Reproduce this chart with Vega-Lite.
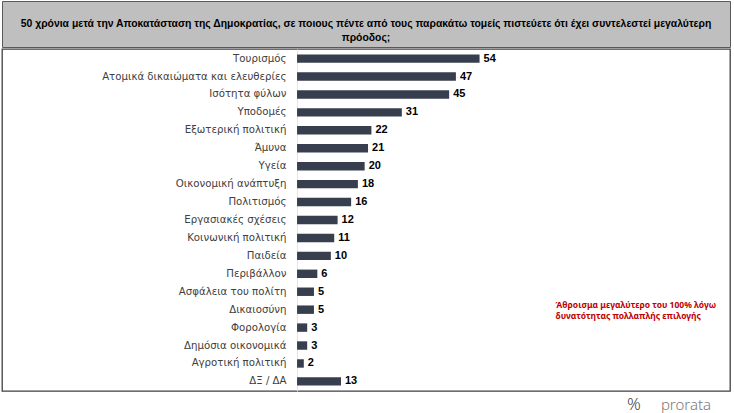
{
  "$schema": "https://vega.github.io/schema/vega-lite/v6.json",
  "background": "white",
  "padding": {"left": 1, "top": 0, "right": 0, "bottom": 0},
  "spacing": 0,
  "config": {"view": {"stroke": null}, "font": "Liberation Sans"},
  "vconcat": [
    {
      "width": 728,
      "height": 46,
      "view": {"fill": "#bfbfbf", "stroke": "#595959", "strokeWidth": 1},
      "data": {"values": [{"title": "50 χρόνια μετά την Αποκατάσταση της Δημοκρατίας, σε ποιους πέντε από τους παρακάτω τομείς πιστεύετε ότι έχει συντελεστεί μεγαλύτερη\nπρόοδος;"}]},
      "mark": {"type": "text", "font": "Liberation Sans", "fontWeight": "bold", "fontSize": 10.4, "lineBreak": "\n", "lineHeight": 13.5, "color": "#000000", "baseline": "middle", "align": "center"},
      "encoding": {"text": {"field": "title"}}
    },
    {
      "width": 728,
      "height": 342,
      "view": {"stroke": "#404040", "strokeWidth": 1.3},
      "data": {"values": [
        {"sector": "Τουρισμός", "pct": 54},
        {"sector": "Ατομικά δικαιώματα και ελευθερίες", "pct": 47},
        {"sector": "Ισότητα φύλων", "pct": 45},
        {"sector": "Υποδομές", "pct": 31},
        {"sector": "Εξωτερική πολιτική", "pct": 22},
        {"sector": "Άμυνα", "pct": 21},
        {"sector": "Υγεία", "pct": 20},
        {"sector": "Οικονομική ανάπτυξη", "pct": 18},
        {"sector": "Πολιτισμός", "pct": 16},
        {"sector": "Εργασιακές σχέσεις", "pct": 12},
        {"sector": "Κοινωνική πολιτική", "pct": 11},
        {"sector": "Παιδεία", "pct": 10},
        {"sector": "Περιβάλλον", "pct": 6},
        {"sector": "Ασφάλεια του πολίτη", "pct": 5},
        {"sector": "Δικαιοσύνη", "pct": 5},
        {"sector": "Φορολογία", "pct": 3},
        {"sector": "Δημόσια οικονομικά", "pct": 3},
        {"sector": "Αγροτική πολιτική", "pct": 2},
        {"sector": "ΔΞ / ΔΑ", "pct": 13}
      ]},
      "layer": [
        {
          "mark": {"type": "bar", "color": "#373e4d"},
          "encoding": {
            "y": {
              "field": "sector", "type": "nominal", "sort": null,
              "scale": {"paddingInner": 0.53, "paddingOuter": 0.3},
              "axis": {"title": null, "offset": -295, "ticks": false, "domain": true, "domainColor": "#e6e6e6", "labelPadding": 11, "labelFont": "DejaVu Sans", "labelFontSize": 10.2, "labelColor": "#404040", "labelLimit": 300}
            },
            "x": {"field": "pct", "type": "quantitative", "scale": {"domain": [-87.3, 128.1], "nice": false, "zero": true}, "axis": null}
          }
        },
        {
          "mark": {"type": "text", "align": "left", "dx": 4, "baseline": "middle", "fontWeight": "bold", "fontSize": 11, "font": "Liberation Sans", "color": "#000000"},
          "encoding": {
            "y": {"field": "sector", "type": "nominal", "sort": null},
            "x": {"field": "pct", "type": "quantitative"},
            "text": {"field": "pct", "type": "quantitative"}
          }
        },
        {
          "transform": [{"filter": "datum.sector === 'Δικαιοσύνη'"}],
          "mark": {"type": "text", "align": "left", "baseline": "middle", "dy": -5, "lineHeight": 11, "fontWeight": "bold", "fontSize": 8.5, "font": "Noto Sans", "color": "#c00000"},
          "encoding": {
            "y": {"field": "sector", "type": "nominal", "sort": null},
            "x": {"datum": 76.5, "type": "quantitative"},
            "text": {"value": ["Άθροισμα μεγαλύτερο του 100% λόγω", "δυνατότητας πολλαπλής επιλογής"]}
          }
        }
      ]
    },
    {
      "width": 728,
      "height": 25,
      "data": {"values": [{"t": "%", "p": 632, "s": 17, "c": "#444444"}, {"t": "prorata", "p": 684, "s": 15, "c": "#7a7a7a"}]},
      "mark": {"type": "text", "baseline": "middle", "align": "center", "font": "Noto Sans", "fontWeight": 300},
      "encoding": {
        "text": {"field": "t"},
        "x": {"field": "p", "type": "quantitative", "scale": {"domain": [0, 728], "nice": false}, "axis": null},
        "size": {"field": "s", "type": "quantitative", "scale": null, "legend": null},
        "color": {"field": "c", "type": "nominal", "scale": null, "legend": null}
      }
    }
  ]
}
